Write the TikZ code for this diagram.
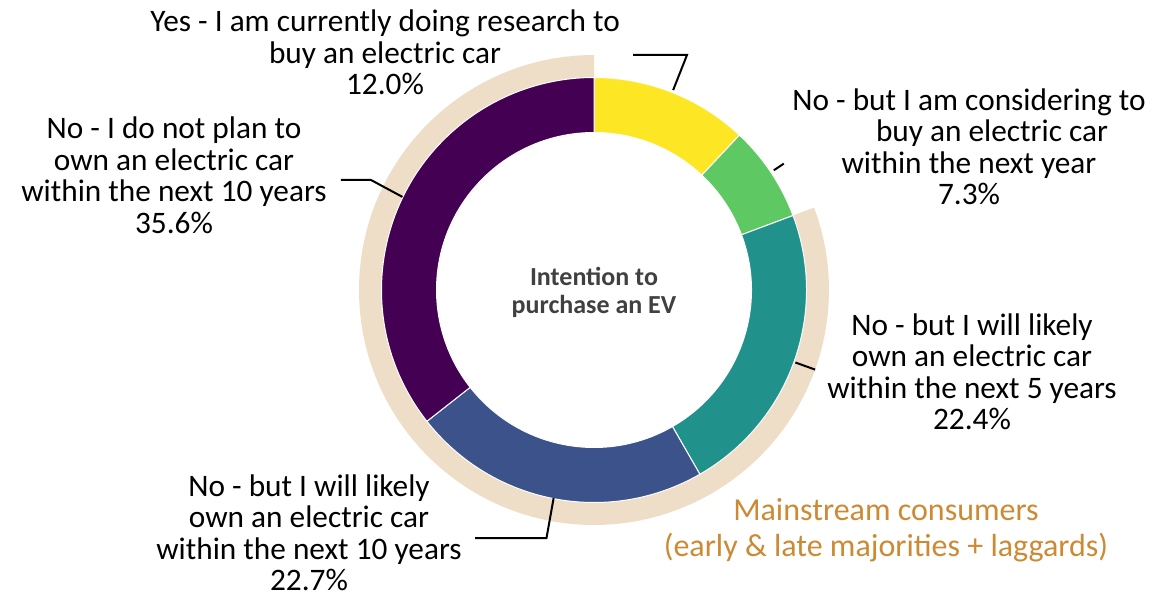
\documentclass[tikz,border=0pt]{standalone}
\usepackage{fontspec}
\setmainfont{Carlito}
\definecolor{YELLOW_Color}{RGB}{253,231,37}
\definecolor{GREEN_Color}{RGB}{94,201,98}
\definecolor{TEAL_Color}{RGB}{33,145,140}
\definecolor{BLUE_Color}{RGB}{59,82,139}
\definecolor{PURPLE_Color}{RGB}{68,1,84}
\definecolor{BEIGE_Color}{RGB}{239,222,199}
\definecolor{ORANGE_Color}{RGB}{204,138,52}
\definecolor{TITLE_Color}{RGB}{64,64,64}
\tikzset{
    ring part/.style={draw=white, line width=1pt},
    leader line/.style={line width=2pt, draw=black},
    label node/.style={align=center, anchor=base, inner sep=0, font={\fontsize{31.3}{31.5}\selectfont}},
    center node/.style={align=center, anchor=base, inner sep=0, text=TITLE_Color, font={\bfseries\fontsize{26}{28}\selectfont}},
    }

\begin{document}
\begin{tikzpicture}
    [x=1pt, y=1pt]
\useasboundingbox (-594,-306) rectangle (580,290);

% mainstream band
\fill[BEIGE_Color] (90:211) -- (90:235) arc[start angle=90, end angle=380.52, radius=235] -- (380.52:211) arc[start angle=380.52, end angle=90, radius=211] -- cycle;

% donut
\filldraw[ring part, fill=YELLOW_Color] (90:157.5) -- (90:212.5) arc[start angle=90, end angle=46.8, radius=212.5] -- (46.8:157.5) arc[start angle=46.8, end angle=90, radius=157.5] -- cycle;
\filldraw[ring part, fill=GREEN_Color] (46.8:157.5) -- (46.8:212.5) arc[start angle=46.8, end angle=20.52, radius=212.5] -- (20.52:157.5) arc[start angle=20.52, end angle=46.8, radius=157.5] -- cycle;
\filldraw[ring part, fill=TEAL_Color] (20.52:157.5) -- (20.52:212.5) arc[start angle=20.52, end angle=-60.12, radius=212.5] -- (-60.12:157.5) arc[start angle=-60.12, end angle=20.52, radius=157.5] -- cycle;
\filldraw[ring part, fill=BLUE_Color] (-60.12:157.5) -- (-60.12:212.5) arc[start angle=-60.12, end angle=-141.84, radius=212.5] -- (-141.84:157.5) arc[start angle=-141.84, end angle=-60.12, radius=157.5] -- cycle;
\filldraw[ring part, fill=PURPLE_Color] (-141.84:157.5) -- (-141.84:212.5) arc[start angle=-141.84, end angle=-270, radius=212.5] -- (-270:157.5) arc[start angle=-270, end angle=-141.84, radius=157.5] -- cycle;

\node[center node] (v0) at (0,-23.3) {Intention to\\purchase an EV};

\node[label node] (v1) at (-209,195) {Yes - I am currently doing research to\\buy an electric car\\12.0\%};
\node[label node] (v2) at (375,85) {No - but I am considering to\\\hspace*{46pt}buy an electric car\\within the next year\\7.3\%};
\node[label node] (v3) at (378,-139.5) {No - but I will likely\\own an electric car\\within the next 5 years\\22.4\%};
\node[label node] (v4) at (-285,-300.5) {No - but I will likely\\own an electric car\\within the next 10 years\\22.7\%};
\node[label node] (v5) at (-420,56.7) {No - I do not plan to\\own an electric car\\within the next 10 years\\35.6\%};
\node[label node, text=ORANGE_Color, font={\fontsize{32}{36}\selectfont}] (v6) at (292,-266.7) {Mainstream consumers\\(early \& late majorities + laggards)};

\coordinate (c1) at (68.4:215);
\coordinate (c1a) at (93,235);
\coordinate (c1b) at (39,235);
\coordinate (c2) at (33.66:216);
\coordinate (c2a) at (33.66:228);
\coordinate (c3) at (-19.8:214);
\coordinate (c3a) at (-19.8:235);
\coordinate (c4) at (-100.98:212);
\coordinate (c4a) at (-47.5,-248);
\coordinate (c4b) at (-119,-248);
\coordinate (c5) at (154.08:213);
\coordinate (c5a) at (-223,110);
\coordinate (c5b) at (-253,110);

\draw[leader line] (c1) -- (c1a) -- (c1b);
\draw[leader line] (c2) -- (c2a);
\draw[leader line] (c3) -- (c3a);
\draw[leader line] (c4) -- (c4a) -- (c4b);
\draw[leader line] (c5) -- (c5a) -- (c5b);
\end{tikzpicture}
\end{document}
